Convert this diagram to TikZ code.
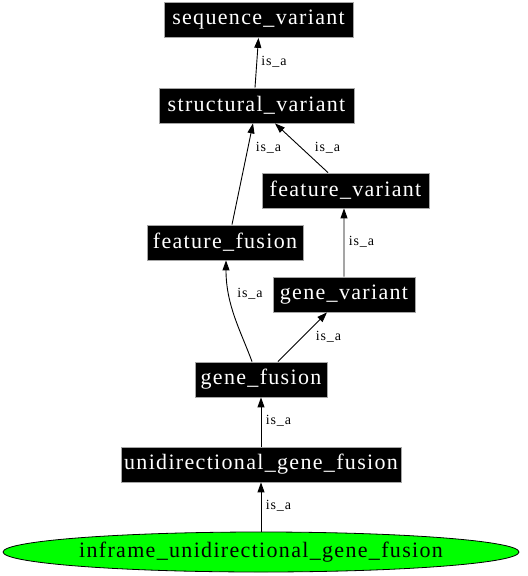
\documentclass[tikz,border=0pt]{standalone}
\usepackage{fontspec}
\setmainfont{Liberation Serif}
\newfontfamily\nodefont[LetterSpace=6]{Liberation Serif}
\newfontfamily\labfont[LetterSpace=6]{Liberation Serif}
\usetikzlibrary{arrows.meta,shapes.geometric,calc}
\begin{document}
\begin{tikzpicture}[x=1bp,y=-1bp,
  term/.style={rectangle,fill=black,draw=gray!70,line width=0.8bp,text=white,inner sep=0pt,minimum height=35bp,font=\nodefont\fontsize{22bp}{24bp}\selectfont},
  root/.style={ellipse,fill=green,draw=black,line width=0.8bp,inner sep=0pt,minimum width=516bp,minimum height=40bp,font=\nodefont\fontsize{22bp}{24bp}\selectfont},
  rel/.style={draw=black,line width=0.9bp,-{Triangle[length=10bp,width=7bp]}},
  lab/.style={inner sep=0pt,font=\labfont\fontsize{14bp}{16bp}\selectfont}]
\useasboundingbox (0,0) rectangle (528,576);
\node[term,minimum width=189bp] (seq) at (258.5,20) {sequence\_variant};
\node[term,minimum width=195bp] (sv) at (256.5,105.5) {structural\_variant};
\node[term,minimum width=167bp] (fv) at (345.5,190.5) {feature\_variant};
\node[term,minimum width=156bp] (ff) at (225,242.5) {feature\_fusion};
\node[term,minimum width=142bp] (gv) at (344,294.5) {gene\_variant};
\node[term,minimum width=132bp] (gf) at (261,379.5) {gene\_fusion};
\node[term,minimum width=280bp] (ugf) at (261,464.5) {unidirectional\_gene\_fusion};
\node[root] (iugf) at (261,552) {inframe\_unidirectional\_gene\_fusion};

\draw[rel] ([xshift=-1.5bp]sv.north) -- (seq.south);
\draw[rel] ([xshift=7bp]ff.north) -- ([xshift=-3.5bp]sv.south);
\draw[rel] ([xshift=-17.5bp]fv.north) -- ([xshift=18.5bp]sv.south);
\draw[rel] (gv.north) -- ([xshift=-1.5bp]fv.south);
\draw[rel] ([xshift=-9bp]gf.north) .. controls ($(gf.north)+(-20,-30)$) and ($(ff.south)+(1,45)$) .. ([xshift=1bp]ff.south);
\draw[rel] ([xshift=17bp]gf.north) -- ([xshift=-17bp]gv.south);
\draw[rel] (ugf.north) -- (gf.south);
\draw[rel] (iugf.north) -- (ugf.south);

\node[lab] (l1) at (274,62) {is\_a};
\node[lab] (l2) at (268.5,148) {is\_a};
\node[lab] (l3) at (327.5,148) {is\_a};
\node[lab] (l4) at (361.5,242) {is\_a};
\node[lab] (l5) at (250,294) {is\_a};
\node[lab] (l6) at (328.5,337) {is\_a};
\node[lab] (l7) at (278.5,421) {is\_a};
\node[lab] (l8) at (278.5,506) {is\_a};
\end{tikzpicture}
\end{document}
